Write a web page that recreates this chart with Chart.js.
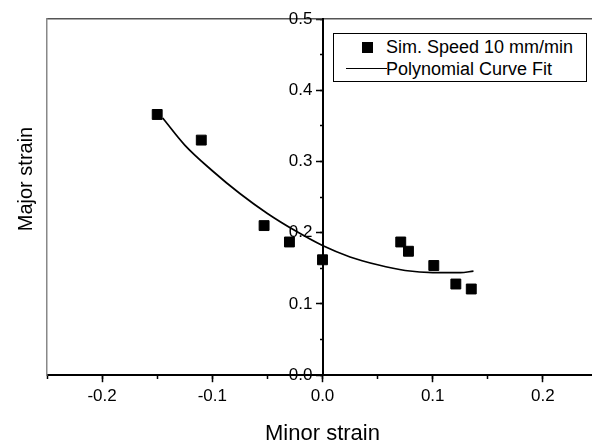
<!DOCTYPE html>
<html>
<head>
<meta charset="utf-8">
<script src="https://cdn.jsdelivr.net/npm/chart.js@4.4.1/dist/chart.umd.min.js"></script>
<style>
  html, body { margin: 0; padding: 0; background: #fff; }
  #wrap { position: relative; width: 592px; height: 447px; overflow: hidden; background: #fff; }
  #c { position: absolute; left: 0; top: 0; }
  #legend { position: absolute; left: 333px; top: 33px; width: 252px; height: 47px; border: 1px solid #000;
            font-family: "Liberation Sans", Arial, sans-serif; font-size: 18px; color: #000; background: #fff; }
  #legend .lab { position: absolute; left: 52px; line-height: 22px; white-space: nowrap; }
  #legend .sq { position: absolute; left: 28px; top: 8px; width: 11px; height: 11px; background: #000; }
  #legend .ln { position: absolute; left: 12px; top: 34px; width: 41px; height: 0; border-top: 1.6px solid #000; }
</style>
</head>
<body>
<div id="wrap">
  <canvas id="c" width="608" height="447"></canvas>
  <div id="legend">
    <div class="sq"></div><div class="lab" style="top:2px">Sim. Speed 10 mm/min</div>
    <div class="ln"></div><div class="lab" style="top:24px">Polynomial Curve Fit</div>
  </div>
</div>
<script>
// ---- data ----
const simMinor = [-0.150, -0.110, -0.053, -0.030, 0.000, 0.071, 0.078, 0.101, 0.121, 0.135];
const simMajor = [ 0.366,  0.330,  0.210,  0.187, 0.162, 0.187, 0.174, 0.154, 0.128, 0.121];

const fitMinor = [-0.145, -0.125, -0.100, -0.075, -0.050, -0.025, 0.000, 0.025, 0.050, 0.075, 0.100, 0.125, 0.137];
const fitMajor = [ 0.361,  0.323,  0.287,  0.255,  0.227,  0.203, 0.182, 0.166, 0.155, 0.147, 0.144, 0.144, 0.146];

const xTickValues = [-0.2, -0.1, 0, 0.1, 0.2];
const xTickLabels = ['-0.2', '-0.1', '0.0', '0.1', '0.2'];
const yTickValues = [0, 0.1, 0.2, 0.3, 0.4, 0.5];
const yTickLabels = ['0.0', '0.1', '0.2', '0.3', '0.4', '0.5'];

const xTitle = 'Minor strain';
const yTitle = 'Major strain';
const seriesNames = ['Sim. Speed 10 mm/min', 'Polynomial Curve Fit'];

const F = '"Liberation Sans", Arial, Helvetica, sans-serif';

const yTitlePlugin = {
  id: 'yTitle',
  afterDraw(chart) {
    const ctx = chart.ctx;
    ctx.save();
    ctx.font = '20px ' + F;
    ctx.fillStyle = '#000';
    ctx.textAlign = 'center';
    ctx.textBaseline = 'middle';
    ctx.translate(26.4, 179);
    ctx.rotate(-Math.PI / 2);
    ctx.fillText(yTitle, 0, 0);
    ctx.restore();
  }
};

new Chart(document.getElementById('c'), {
  type: 'scatter',
  data: {
    datasets: [
      {
        type: 'scatter',
        label: seriesNames[0],
        data: simMinor.map((x, i) => ({ x: x, y: simMajor[i] })),
        pointStyle: 'rect',
        pointRadius: 7,
        pointHoverRadius: 7,
        backgroundColor: '#000',
        borderColor: '#000',
        borderWidth: 1,
        showLine: false,
        order: 0
      },
      {
        type: 'line',
        label: seriesNames[1],
        data: fitMinor.map((x, i) => ({ x: x, y: fitMajor[i] })),
        borderColor: '#000',
        borderWidth: 1.7,
        pointRadius: 0,
        fill: false,
        cubicInterpolationMode: 'monotone',
        order: 1
      }
    ]
  },
  options: {
    responsive: false,
    devicePixelRatio: 1,
    animation: false,
    layout: { padding: { left: 47, top: 19, right: 10, bottom: 0 } },
    plugins: { legend: { display: false }, tooltip: { enabled: false } },
    scales: {
      x: {
        type: 'linear', position: 'bottom', min: -0.25, max: 0.25,
        afterBuildTicks: (s) => { s.ticks = xTickValues.map(v => ({ value: v })); },
        ticks: {
          callback: (v, i) => xTickLabels[i],
          font: { size: 17, family: F, lineHeight: 1.2 }, color: '#000',
          padding: 4, maxRotation: 0, autoSkip: false
        },
        grid: { display: true, drawOnChartArea: false, drawTicks: true, tickLength: 7, tickWidth: 1.5, tickColor: '#000' },
        border: { display: true, color: '#000', width: 2 },
        title: { display: true, text: xTitle, color: '#000',
                 font: { size: 22, family: F, lineHeight: 1.2 }, padding: { top: 10, bottom: 0 } }
      },
      xMinor: {
        type: 'linear', position: { y: 0 }, min: -0.25, max: 0.25,
        ticks: { display: false, stepSize: 0.05 },
        grid: { display: true, drawOnChartArea: false, drawTicks: true, tickLength: 4, tickWidth: 1.5, tickColor: '#000' },
        border: { display: false }
      },
      xTop: {
        type: 'linear', position: 'top', min: -0.25, max: 0.25,
        ticks: { display: false },
        grid: { display: false, drawTicks: false },
        border: { display: true, color: '#555', width: 1.5 }
      },
      y: {
        type: 'linear', position: 'center', min: 0, max: 0.5,
        afterBuildTicks: (s) => { s.ticks = yTickValues.map(v => ({ value: v })); },
        ticks: {
          callback: (v, i) => yTickLabels[i],
          font: { size: 17, family: F, lineHeight: 1.2 }, color: '#000', padding: 4
        },
        grid: { display: true, drawOnChartArea: false, drawTicks: true, tickLength: 6, tickWidth: 1.5, tickColor: '#000' },
        border: { display: true, color: '#000', width: 2 }
      },
      yMinor: {
        type: 'linear', position: 'center', min: 0, max: 0.5,
        ticks: { display: false, stepSize: 0.05 },
        grid: { display: true, drawOnChartArea: false, drawTicks: true, tickLength: 3, tickWidth: 1.5, tickColor: '#000' },
        border: { display: false }
      },
      yLeft: {
        type: 'linear', position: 'left', min: 0, max: 0.5,
        ticks: { display: false },
        grid: { display: false, drawTicks: false },
        border: { display: true, color: '#888', width: 1.5 }
      }
    }
  },
  plugins: [yTitlePlugin]
});
</script>
</body>
</html>
